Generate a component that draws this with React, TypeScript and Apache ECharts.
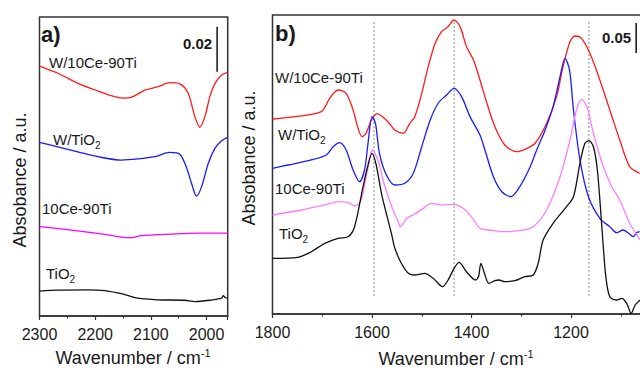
import React, { useEffect, useRef } from 'react';
import * as echarts from 'echarts';

const FONT = '"Liberation Sans", Arial, Helvetica, sans-serif';
const TXT = '#1a1a1a';

// Panel a) 2300-1962 cm-1, absorbance (a.u.)
const aRed = [
  [2300, 0.1111], [2267, 0.1079], [2231, 0.1034], [2195, 0.1], [2165, 0.0975], [2147, 0.0968],
  [2132, 0.0975], [2111, 0.1004], [2087, 0.1019], [2066, 0.1037], [2048, 0.1032], [2033, 0.099],
  [2021, 0.0886], [2012, 0.0839], [2003, 0.0886], [1994, 0.0975], [1985, 0.1033], [1973, 0.1071],
  [1962, 0.1083],
];
const aBlue = [
  [2300, 0.0772], [2267, 0.0752], [2231, 0.073], [2195, 0.0708], [2153, 0.0693], [2123, 0.0698],
  [2093, 0.0708], [2066, 0.0727], [2048, 0.0719], [2036, 0.066], [2027, 0.059], [2018, 0.0533],
  [2009, 0.0574], [1997, 0.0678], [1985, 0.0745], [1973, 0.0779], [1962, 0.0794],
];
const aMagenta = [
  [2300, 0.0397], [2243, 0.0382], [2183, 0.0363], [2153, 0.0351], [2135, 0.0348], [2117, 0.0357],
  [2063, 0.0364], [2015, 0.0368], [1962, 0.0368],
];
const aBlack = [
  [2300, 0.0111], [2267, 0.0115], [2213, 0.0116], [2183, 0.0113], [2153, 0.0099], [2123, 0.0079],
  [2087, 0.0072], [2039, 0.007], [2021, 0.0064], [1991, 0.0071], [1973, 0.0079], [1970, 0.009],
  [1966, 0.0081], [1962, 0.0079],
];

// Panel b) 1800-1060 cm-1
const bRed = [
  [1800, 0.325], [1755, 0.3289], [1702, 0.3372], [1685, 0.3595], [1668, 0.3733], [1652, 0.3678],
  [1638, 0.34], [1628, 0.3095], [1620, 0.2955], [1612, 0.3012], [1601, 0.3233], [1590, 0.334],
  [1568, 0.3205], [1554, 0.3067], [1537, 0.3012], [1524, 0.3178], [1514, 0.3289], [1500, 0.3678],
  [1487, 0.4122], [1473, 0.4512], [1460, 0.4706], [1447, 0.4789], [1435, 0.49], [1423, 0.4789],
  [1410, 0.4456], [1396, 0.4233], [1383, 0.39], [1369, 0.3512], [1353, 0.3122], [1333, 0.2817],
  [1309, 0.2705], [1293, 0.2745], [1272, 0.2845], [1249, 0.3178], [1229, 0.3622], [1216, 0.4122],
  [1202, 0.4538], [1192, 0.4633], [1179, 0.4594], [1162, 0.4345], [1142, 0.39], [1122, 0.34],
  [1102, 0.29], [1082, 0.2455], [1062, 0.2345],
];
const bBlue = [
  [1800, 0.2428], [1769, 0.2483], [1722, 0.2567], [1692, 0.265], [1678, 0.2788], [1665, 0.2855],
  [1652, 0.2733], [1638, 0.24], [1625, 0.2205], [1615, 0.24], [1608, 0.2845], [1600, 0.3289],
  [1593, 0.3178], [1585, 0.2678], [1571, 0.2317], [1554, 0.215], [1534, 0.2178], [1517, 0.2345],
  [1500, 0.2788], [1483, 0.3233], [1467, 0.3512], [1450, 0.365], [1435, 0.3761], [1420, 0.3622],
  [1403, 0.3289], [1383, 0.2983], [1373, 0.2733], [1356, 0.2288], [1339, 0.2038], [1321, 0.1955],
  [1303, 0.2122], [1282, 0.2455], [1269, 0.2733], [1252, 0.3067], [1236, 0.3455], [1222, 0.3955],
  [1212, 0.4261], [1203, 0.4067], [1195, 0.34], [1182, 0.2567], [1165, 0.1955], [1142, 0.1595],
  [1122, 0.1455], [1108, 0.1355], [1095, 0.14], [1082, 0.1333], [1075, 0.1288], [1068, 0.1355],
  [1062, 0.1372],
];
const bMagenta = [
  [1800, 0.165], [1742, 0.1733], [1695, 0.1817], [1668, 0.1872], [1648, 0.1855], [1634, 0.18],
  [1622, 0.19], [1609, 0.24], [1599, 0.2733], [1588, 0.2567], [1575, 0.215], [1558, 0.1733],
  [1548, 0.155], [1543, 0.1455], [1530, 0.1595], [1514, 0.1667], [1497, 0.1761], [1480, 0.1845],
  [1460, 0.1817], [1435, 0.1828], [1417, 0.1761], [1400, 0.1622], [1383, 0.1428], [1366, 0.14],
  [1353, 0.1388], [1339, 0.1372], [1303, 0.1388], [1276, 0.1455], [1249, 0.1733], [1222, 0.2288],
  [1202, 0.29], [1189, 0.34], [1179, 0.3578], [1168, 0.3455], [1155, 0.3012], [1135, 0.2455],
  [1118, 0.2122], [1102, 0.19], [1082, 0.1512], [1061, 0.1233],
];
const bBlack = [
  [1800, 0.0928], [1749, 0.0945], [1722, 0.1038], [1695, 0.1178], [1668, 0.1262], [1648, 0.1288],
  [1635, 0.1455], [1618, 0.2122], [1609, 0.245], [1600, 0.2678], [1592, 0.25], [1581, 0.2012],
  [1572, 0.17], [1561, 0.1345], [1554, 0.1095], [1541, 0.0845], [1527, 0.0678], [1514, 0.065],
  [1494, 0.0678], [1477, 0.0595], [1458, 0.0455], [1447, 0.0567], [1435, 0.0761], [1425, 0.0861],
  [1410, 0.0705], [1392, 0.0567], [1386, 0.0622], [1381, 0.0845], [1374, 0.0678], [1365, 0.0512],
  [1353, 0.0555], [1345, 0.0567], [1333, 0.0538], [1313, 0.0555], [1293, 0.0622], [1276, 0.065],
  [1266, 0.0845], [1256, 0.1233], [1236, 0.1512], [1209, 0.1788], [1195, 0.1955], [1182, 0.2512],
  [1172, 0.2845], [1164, 0.2888], [1155, 0.2788], [1147, 0.24], [1138, 0.1455], [1130, 0.0622],
  [1122, 0.0288], [1108, 0.0233], [1098, 0.0262], [1088, 0.0178], [1079, 0.0012], [1071, 0.015],
  [1061, 0.0233],
];

const dashedPositions = [1596, 1435, 1164];
const dashedRange = [0.03, 0.49];
const scaleA = { x: 1981, y0: 0.1086, len: 0.02, label: '0.02' };
const scaleB = { x: 1069, y0: 0.435, len: 0.05, label: '0.05' };
const visibleB = 1060; // lowest wavenumber that fits in the picture

const curve = (data: number[][], color: string, idx: number) => ({
  type: 'line',
  xAxisIndex: idx,
  yAxisIndex: idx,
  data,
  symbol: 'none',
  smooth: 0.3,
  lineStyle: { color, width: 1.3 },
  silent: true,
  z: 3,
});

const rich = (size: number) => ({
  a: { fontSize: size, fontFamily: FONT, fill: TXT, lineHeight: 22 },
  s: { fontSize: 10, fontFamily: FONT, fill: TXT, lineHeight: 12, verticalAlign: 'bottom' },
  p: { fontSize: 11, fontFamily: FONT, fill: TXT, lineHeight: 12, verticalAlign: 'top' },
});

const label = (x: number, y: number, text: string, size = 15, extra: any = {}) => ({
  type: 'text',
  x,
  y,
  style: {
    text,
    rich: rich(size),
    fontSize: size,
    fontFamily: FONT,
    fill: TXT,
    align: 'left',
    verticalAlign: 'middle',
    ...extra,
  },
  z: 10,
});

export default function App() {
  const ref = useRef<HTMLDivElement>(null);
  useEffect(() => {
    const chart = echarts.init(ref.current!, null, { renderer: 'svg' });
    const axisCommon = {
      axisLine: { show: true, lineStyle: { color: '#333', width: 1.5 } },
      axisTick: { show: true, inside: false, length: 4, lineStyle: { color: '#333', width: 1.2 } },
      minorTick: { show: true, splitNumber: 2, length: 2.5, lineStyle: { color: '#333', width: 1.2 } },
      splitLine: { show: false },
      minorSplitLine: { show: false },
      axisLabel: {
        fontSize: 16, fontFamily: FONT, color: TXT, margin: 10,
        formatter: (v: number) => (v % 100 === 0 && v > visibleB ? String(v) : ''),
      },
    };
    const option: any = {
      animation: false,
      backgroundColor: '#fff',
      grid: [
        { left: 39.5, top: 17, width: 188.2, height: 299, show: true, borderColor: '#333', borderWidth: 1.5, containLabel: false, outerBoundsMode: 'none' },
        { left: 272.5, top: 15, width: 398, height: 299, show: true, borderColor: '#333', borderWidth: 1.5, containLabel: false, outerBoundsMode: 'none' },
      ],
      xAxis: [
        {
          ...axisCommon,
          type: 'value',
          gridIndex: 0,
          min: 1962,
          max: 2300,
          inverse: true,
          splitNumber: 3,
        },
        {
          ...axisCommon,
          type: 'value',
          gridIndex: 1,
          min: 1000,
          max: 1800,
          interval: 200,
          inverse: true,
          axisLabel: { ...axisCommon.axisLabel, showMinLabel: false },
        },
      ],
      yAxis: [
        { type: 'value', gridIndex: 0, min: 0, max: 0.1329, show: false },
        { type: 'value', gridIndex: 1, min: 0, max: 0.4983, show: false },
      ],
      series: [
        ...dashedPositions.map((p) => ({
          type: 'line',
          xAxisIndex: 1,
          yAxisIndex: 1,
          data: [[p, dashedRange[0]], [p, dashedRange[1]]],
          symbol: 'none',
          lineStyle: { color: '#8a8a8a', width: 1, type: [2, 2] },
          silent: true,
          z: 1,
        })),
        curve(aRed, '#ff1a1a', 0),
        curve(aBlue, '#1a1aff', 0),
        curve(aMagenta, '#ff00ff', 0),
        curve(aBlack, '#111111', 0),
        curve(bRed, '#ff1a1a', 1),
        curve(bBlue, '#1a1aff', 1),
        curve(bMagenta, '#ff7cff', 1),
        curve(bBlack, '#111111', 1),
        {
          type: 'line', xAxisIndex: 0, yAxisIndex: 0, symbol: 'none', silent: true,
          data: [[scaleA.x, scaleA.y0], [scaleA.x, scaleA.y0 + scaleA.len]],
          lineStyle: { color: '#111', width: 1.5 },
        },
        {
          type: 'line', xAxisIndex: 1, yAxisIndex: 1, symbol: 'none', silent: true,
          data: [[scaleB.x, scaleB.y0], [scaleB.x, scaleB.y0 + scaleB.len]],
          lineStyle: { color: '#111', width: 1.5 },
        },
      ],
      graphic: [
        label(41, 34, 'a)', 22, { fontWeight: 'bold' }),
        label(275, 33, 'b)', 22, { fontWeight: 'bold' }),
        label(49, 62, 'W/10Ce-90Ti'),
        label(53, 139, '{a|W/TiO}{s|2}'),
        label(42, 208, '10Ce-90Ti'),
        label(46, 273, '{a|TiO}{s|2}'),
        label(275, 77, 'W/10Ce-90Ti'),
        label(278, 134, '{a|W/TiO}{s|2}'),
        label(275, 188, '10Ce-90Ti'),
        label(279, 233, '{a|TiO}{s|2}'),
        label(183, 43, scaleA.label, 15, { fontWeight: 'bold' }),
        label(602, 37, scaleB.label, 15, { fontWeight: 'bold' }),
        {
          type: 'text', x: 20, y: 180, rotation: Math.PI / 2,
          style: { text: 'Absobance / a.u.', fontSize: 18, fontFamily: FONT, fill: TXT, align: 'center', verticalAlign: 'middle' },
        },
        {
          type: 'text', x: 249, y: 158, rotation: Math.PI / 2,
          style: { text: 'Absobance / a.u.', fontSize: 18, fontFamily: FONT, fill: TXT, align: 'center', verticalAlign: 'middle' },
        },
        {
          type: 'text', x: 133, y: 358,
          style: { text: '{a|Wavenumber / cm}{p|-1}', rich: { ...rich(18) }, align: 'center', verticalAlign: 'middle' },
        },
        {
          type: 'text', x: 456, y: 359,
          style: { text: '{a|Wavenumber / cm}{p|-1}', rich: { ...rich(18) }, align: 'center', verticalAlign: 'middle' },
        },
      ],
    };
    chart.setOption(option);
    return () => chart.dispose();
  }, []);
  return (
    <div
      ref={ref}
      style={{ position: 'fixed', left: 0, top: 0, width: 640, height: 370, background: '#fff' }}
    />
  );
}
